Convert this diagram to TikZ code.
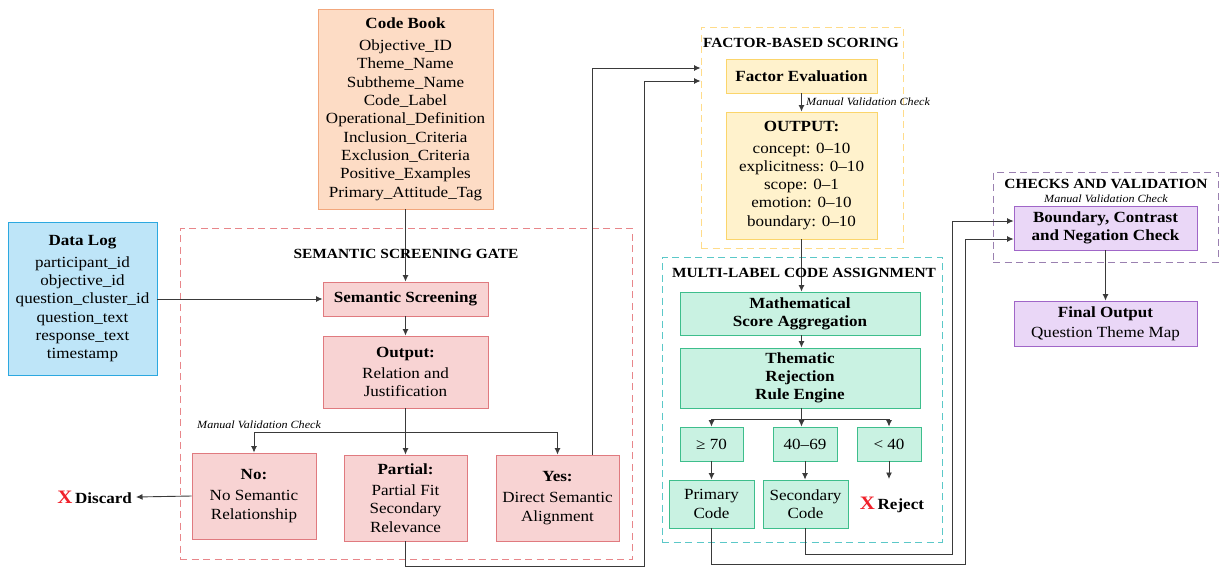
\documentclass[tikz,border=0pt]{standalone}
\usepackage{fontspec}
\setmainfont[FakeStretch=1.1]{Liberation Serif}
\usetikzlibrary{arrows.meta,fit,calc}
\definecolor{cbfill}{HTML}{FDDCC5}
\definecolor{cbdraw}{HTML}{F2A77C}
\definecolor{dlfill}{HTML}{BEE5F8}
\definecolor{dldraw}{HTML}{2CA8E0}
\definecolor{pkfill}{HTML}{F8D3D3}
\definecolor{pkdraw}{HTML}{E07A7F}
\definecolor{ylfill}{HTML}{FFF2CC}
\definecolor{yldraw}{HTML}{FBD56B}
\definecolor{tlfill}{HTML}{C9F2E2}
\definecolor{tldraw}{HTML}{3DBE8C}
\definecolor{pufill}{HTML}{EAD7F7}
\definecolor{pudraw}{HTML}{A066C8}
\definecolor{gssg}{HTML}{E8868A}
\definecolor{gfbs}{HTML}{FFDC8A}
\definecolor{gmlca}{HTML}{5BC8C8}
\definecolor{gchk}{HTML}{9A80B0}
\definecolor{conn}{HTML}{3A3A3A}
\definecolor{xred}{HTML}{F0202A}
\tikzset{
  box/.style={draw, line width=0.9pt, align=center, inner sep=1pt,
    font=\fontsize{15.5}{18.3}\selectfont},
  cbk/.style={box, fill=cbfill, draw=cbdraw},
  dlog/.style={box, fill=dlfill, draw=dldraw},
  pink/.style={box, fill=pkfill, draw=pkdraw},
  yell/.style={box, fill=ylfill, draw=yldraw},
  teal/.style={box, fill=tlfill, draw=tldraw},
  purp/.style={box, fill=pufill, draw=pudraw},
  grp/.style={draw, line width=0.9pt, dash pattern=on 7pt off 4.5pt, inner sep=0pt},
  gtitle/.style={font=\fontsize{14}{16}\selectfont\bfseries},
  mvc/.style={font=\fontsize{11}{12}\selectfont\itshape, inner sep=0pt},
  conline/.style={draw=conn, line width=0.9pt},
  arr/.style={conline, -{Latex[length=6.5pt,width=6pt]}},
}
\begin{document}
\begin{tikzpicture}[x=1pt,y=-1pt]
\useasboundingbox (0,0) rectangle (1223,568);
% groups
\node[grp, draw=gssg, fit={(180,228) (632,559)}] (ssg) {};
\node[grp, draw=gfbs, fit={(701,27) (903,248)}] (fbs) {};
\node[grp, draw=gmlca, fit={(662,257) (942,542)}] (mlca) {};
\node[grp, draw=gchk, fit={(993,172) (1218,262)}] (chk) {};
% boxes
\node[cbk, minimum width=175pt, minimum height=200pt] (cb) at (405.5,109)
 {{\bfseries Code Book}\\[4pt]Objective\_ID\\Theme\_Name\\Subtheme\_Name\\Code\_Label\\Operational\_Definition\\Inclusion\_Criteria\\Exclusion\_Criteria\\Positive\_Examples\\Primary\_Attitude\_Tag};
\node[dlog, minimum width=149pt, minimum height=153pt] (dl) at (82.5,298.5)
 {{\bfseries Data Log}\\[4pt]participant\_id\\objective\_id\\question\_cluster\_id\\question\_text\\response\_text\\timestamp};
\node[pink, minimum width=165pt, minimum height=34pt] (ss) at (405.5,299) {\bfseries Semantic Screening};
\node[pink, minimum width=165pt, minimum height=72pt] (out) at (405.5,372)
 {{\bfseries Output:}\\[3pt]Relation and\\Justification};
\node[pink, minimum width=124pt, minimum height=86pt] (no) at (254,496)
 {{\bfseries No:}\\[3pt]No Semantic\\Relationship};
\node[pink, minimum width=123pt, minimum height=86pt] (partial) at (405.5,498)
 {{\bfseries Partial:}\\[3pt]Partial Fit\\Secondary\\Relevance};
\node[pink, minimum width=123pt, minimum height=86pt] (yes) at (557.5,498)
 {{\bfseries Yes:}\\[3pt]Direct Semantic\\Alignment};
\node[yell, minimum width=151pt, minimum height=34pt] (fe) at (801.5,76) {\bfseries Factor Evaluation};
\node[yell, minimum width=151pt, minimum height=127pt] (fout) at (801.5,175.5)
 {{\bfseries OUTPUT:}\\[3pt]concept: 0--10\\explicitness: 0--10\\scope: 0--1\\emotion: 0--10\\boundary: 0--10};
\node[teal, minimum width=240pt, minimum height=43pt] (math) at (800,313.5)
 {\bfseries Mathematical\\\bfseries Score Aggregation};
\node[teal, minimum width=240pt, minimum height=60pt] (them) at (800,378)
 {\bfseries Thematic\\\bfseries Rejection\\\bfseries Rule Engine};
\node[teal, minimum width=63pt, minimum height=34pt] (ge) at (711.5,444) {≥ 70};
\node[teal, minimum width=64pt, minimum height=34pt] (mid) at (805,444) {40–69};
\node[teal, minimum width=64pt, minimum height=34pt] (lt) at (889,444) {< 40};
\node[teal, minimum width=85pt, minimum height=48pt] (prim) at (711.5,504) {Primary\\Code};
\node[teal, minimum width=85pt, minimum height=48pt] (sec) at (805.5,504) {Secondary\\Code};
\node[purp, minimum width=183pt, minimum height=44pt] (bnd) at (1105.5,228)
 {\bfseries Boundary, Contrast\\\bfseries and Negation Check};
\node[purp, minimum width=183pt, minimum height=45pt] (fin) at (1105.5,323.5)
 {{\bfseries Final Output}\\[2pt]Question Theme Map};
% end labels
\node[box, draw=none, anchor=west, inner sep=0pt] (discard) at (57,497)
 {{\fontsize{19}{20}\selectfont\bfseries\color{xred}X}\,\bfseries Discard};
\node[box, draw=none, inner sep=0pt] (reject) at (892,505)
 {{\fontsize{19}{20}\selectfont\bfseries\color{xred}X}\,\bfseries Reject};
\coordinate (rej) at (889,479);
\coordinate (dend) at (136,497);
% connectors
\draw[arr] (cb.south) -- (ss.north);
\draw[arr] (ss.west -| dl.east) -- (ss.west);
\draw[arr] (ss.south) -- (out.south |- out.north);
\coordinate (br) at (405.5,432);
\draw[conline] (out.south) -- (br);
\draw[conline] (no.north |- br) -- (yes.north |- br);
\draw[arr] (br) -- (partial.north);
\draw[arr] (no.north |- br) -- (no.north);
\draw[arr] (yes.north |- br) -- (yes.north);
\draw[arr] (no.west) -- (dend);
\draw[arr] (yes.north -| 592,0) -- (592,68) -- (fbs.west |- 0,68);
\draw[arr] (partial.south) -- (405.5,566) -- (644,566) -- (644,81) -- (fbs.west |- 0,81);
\draw[arr] (fe.south) -- (fout.north);
\draw[arr] (fout.south) -- (fout.south |- math.north);
\draw[arr] (math.south -| fout.south) -- (them.north -| fout.south);
\coordinate (br2) at (801.5,419);
\draw[conline] (them.south -| br2) -- (br2);
\draw[conline] (ge.north |- br2) -- (lt.north |- br2);
\draw[arr] (ge.north |- br2) -- (ge.north);
\draw[arr] (br2) -- (br2 |- mid.north);
\draw[arr] (lt.north |- br2) -- (lt.north);
\draw[arr] (ge.south) -- (prim.north -| ge.south);
\draw[arr] (mid.south) -- (sec.north -| mid.south);
\draw[arr] (lt.south) -- (rej);
\draw[arr] (prim.south) -- (711.5,564) -- (965,564) -- (965,239) -- (bnd.west |- 0,239);
\draw[arr] (sec.south) -- (805.5,554) -- (952,554) -- (952,221) -- (bnd.west |- 0,221);
\draw[arr] (bnd.south) -- (fin.north);
% titles
\node[gtitle] (tssg) at (406,254) {SEMANTIC SCREENING GATE};
\node[gtitle] (tfbs) at (801,43) {FACTOR-BASED SCORING};
\node[gtitle] (tmlca) at (804,273) {MULTI-LABEL CODE ASSIGNMENT};
\node[gtitle] (tchk) at (1106,184) {CHECKS AND VALIDATION};
\node[mvc] (m1) at (1106,199) {Manual Validation Check};
\node[mvc, anchor=west] (m2) at (197,425) {Manual Validation Check};
\node[mvc, anchor=west] (m3) at (806,102) {Manual Validation Check};
\end{tikzpicture}
\end{document}
